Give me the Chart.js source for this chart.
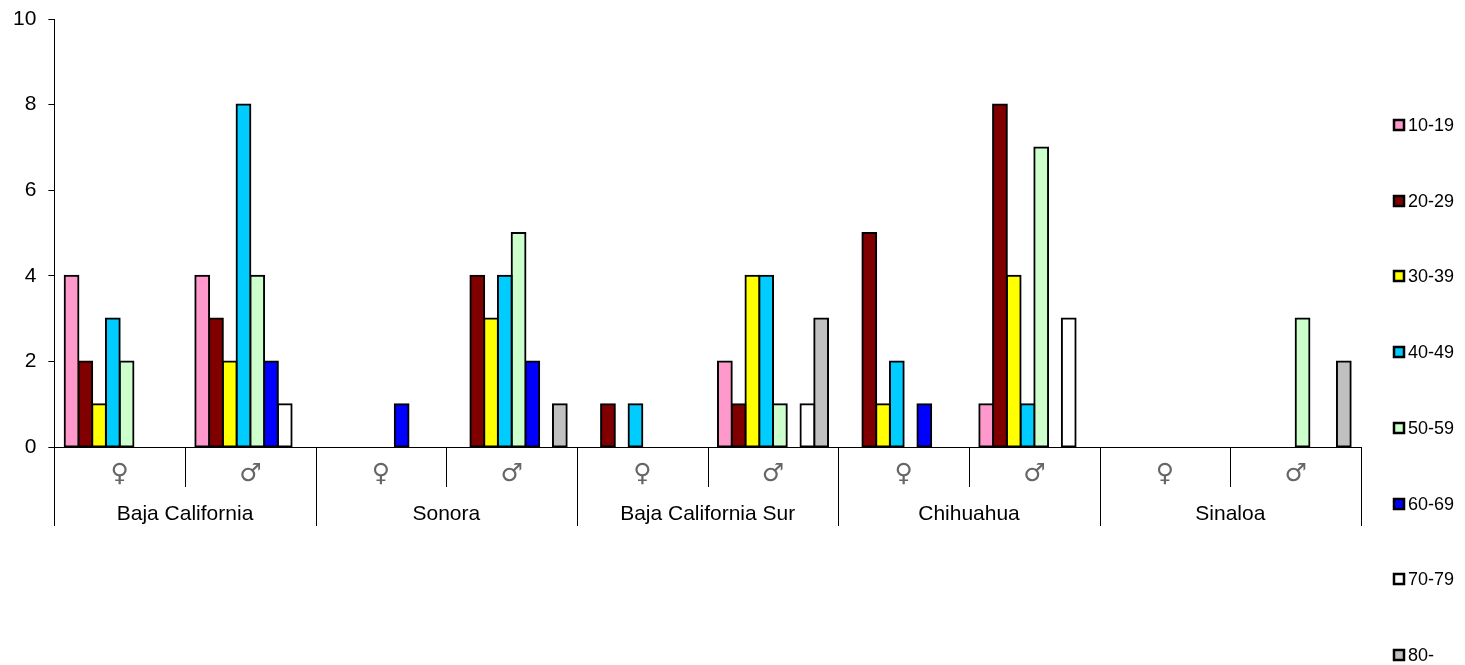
<!DOCTYPE html>
<html>
<head>
<meta charset="utf-8">
<script src="https://cdn.jsdelivr.net/npm/chart.js@4.4.0/dist/chart.umd.min.js"></script>
<style>
  html, body { margin: 0; padding: 0; background: #fff; }
  #wrap { width: 1465px; height: 665px; }
</style>
</head>
<body>
<div id="wrap"><canvas id="chart" width="1465" height="665"></canvas></div>
<script>
// States along the x axis, each split by sex
const states = ['Baja California', 'Sonora', 'Baja California Sur', 'Chihuahua', 'Sinaloa'];
const sexes = ['♀', '♂'];

// Age groups (one bar series each)
const ageGroups = ['10-19', '20-29', '30-39', '40-49', '50-59', '60-69', '70-79', '80-'];

// Counts per category: BC♀, BC♂, Son♀, Son♂, BCS♀, BCS♂, Chih♀, Chih♂, Sin♀, Sin♂
const age10to19 = [4, 4, 0, 0, 0, 2, 0, 1, 0, 0];
const age20to29 = [2, 3, 0, 4, 1, 1, 5, 8, 0, 0];
const age30to39 = [1, 2, 0, 3, 0, 4, 1, 4, 0, 0];
const age40to49 = [3, 8, 0, 4, 1, 4, 2, 1, 0, 0];
const age50to59 = [2, 4, 0, 5, 0, 1, 0, 7, 0, 3];
const age60to69 = [0, 2, 1, 2, 0, 0, 1, 0, 0, 0];
const age70to79 = [0, 1, 0, 0, 0, 1, 0, 3, 0, 0];
const age80plus = [0, 0, 0, 1, 0, 3, 0, 0, 0, 2];

// Y axis ticks
const yTicks = [0, 2, 4, 6, 8, 10];

const seriesValues = [age10to19, age20to29, age30to39, age40to49, age50to59, age60to69, age70to79, age80plus];
const seriesColors = ['#FF99CC', '#800000', '#FFFF00', '#00CCFF', '#CCFFCC', '#0000FF', '#FFFFFF', '#C0C0C0'];

// One category per state/sex pair: [sex, state]
const categories = states.flatMap(s => sexes.map(x => [x, s]));

const FONT = '"Liberation Sans", Arial, "DejaVu Sans", sans-serif';

// Two-level category axis: sex symbols, state names and the divider lines
const groupedAxis = {
  id: 'groupedAxis',
  afterDraw(chart) {
    const { ctx, chartArea, scales: { x } } = chart;
    const base = chartArea.bottom;
    const n = categories.length;
    const half = (x.getPixelForValue(1) - x.getPixelForValue(0)) / 2;
    ctx.save();
    ctx.strokeStyle = '#000';
    ctx.lineWidth = 1;
    for (let i = 0; i <= n; i++) {
      const px = i < n ? x.getPixelForValue(i) - half : x.getPixelForValue(n - 1) + half;
      const len = (i % sexes.length === 0) ? 79 : 40;
      const xx = Math.round(px) + 0.5;
      ctx.beginPath();
      ctx.moveTo(xx, base);
      ctx.lineTo(xx, base + len);
      ctx.stroke();
    }
    ctx.textAlign = 'center';
    ctx.textBaseline = 'middle';
    ctx.fillStyle = '#666';
    ctx.font = '25px "DejaVu Sans", sans-serif';
    categories.forEach((c, i) => ctx.fillText(c[0], x.getPixelForValue(i), base + 27));
    ctx.fillStyle = '#000';
    ctx.font = '21px ' + FONT;
    states.forEach((s, j) => {
      const a = x.getPixelForValue(j * sexes.length);
      const b = x.getPixelForValue(j * sexes.length + sexes.length - 1);
      ctx.fillText(s, (a + b) / 2, base + 67);
    });
    ctx.restore();
  }
};

// Column legend on the right
const sideLegend = {
  id: 'sideLegend',
  afterDraw(chart) {
    const { ctx } = chart;
    ctx.save();
    ctx.font = '18px ' + FONT;
    ctx.textAlign = 'left';
    ctx.textBaseline = 'middle';
    chart.data.datasets.forEach((ds, i) => {
      const cy = Math.round(125 + i * 75.7);
      ctx.fillStyle = ds.backgroundColor;
      ctx.fillRect(1394, cy - 5, 10, 10);
      ctx.strokeStyle = '#000';
      ctx.lineWidth = 2.5;
      ctx.strokeRect(1394, cy - 5, 10, 10);
      ctx.fillStyle = '#000';
      ctx.fillText(ds.label, 1408, cy + 1);
    });
    ctx.restore();
  }
};

new Chart(document.getElementById('chart'), {
  type: 'bar',
  data: {
    labels: categories,
    datasets: ageGroups.map((label, i) => ({
      label,
      data: seriesValues[i],
      backgroundColor: seriesColors[i],
      borderColor: '#000',
      // outline straddles the bar edge, so neighbouring bars share one line
      borderWidth: c => (c.raw ? 2 : 0),
      inflateAmount: c => (c.raw ? 1 : 0),
      borderSkipped: false,
      barPercentage: 1,
      categoryPercentage: 8 / 9.5
    }))
  },
  options: {
    responsive: false,
    animation: false,
    devicePixelRatio: 1,
    layout: { padding: { left: 1, top: 19, right: 104, bottom: 210 } },
    plugins: { legend: { display: false }, tooltip: { enabled: false } },
    scales: {
      x: {
        type: 'category',
        offset: true,
        grid: { display: false },
        ticks: { display: false },
        border: { display: true, color: '#000', width: 1 }
      },
      y: {
        min: yTicks[0],
        max: yTicks[yTicks.length - 1],
        afterBuildTicks(scale) { scale.ticks = yTicks.map(v => ({ value: v })); },
        afterFit(scale) { scale.paddingTop = 0; },
        ticks: { color: '#000', font: { size: 21, family: FONT }, padding: 12 },
        grid: { drawOnChartArea: false, drawTicks: true, tickLength: 6, color: '#000' },
        border: { display: true, color: '#000', width: 1 }
      }
    }
  },
  plugins: [groupedAxis, sideLegend]
});
</script>
</body>
</html>
